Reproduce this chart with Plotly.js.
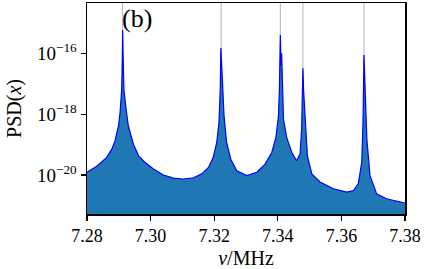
<!DOCTYPE html>
<html>
<head>
<meta charset="utf-8">
<script src="https://cdn.plot.ly/plotly-3.0.1.min.js"></script>
<style>html,body{margin:0;padding:0;background:#fff;}#chart{width:436px;height:269px;}</style>
</head>
<body>
<div id="chart"></div>
<script>
// Frequency (MHz)
const nu = [7.2800, 7.2831, 7.2862, 7.2878, 7.2888, 7.2899, 7.2904, 7.2909, 7.2911, 7.2912,
  7.2914, 7.2916, 7.2923, 7.2930, 7.2946, 7.2962, 7.2982, 7.3009, 7.3040, 7.3072,
  7.3103, 7.3135, 7.3161, 7.3182, 7.3197, 7.3208, 7.3215, 7.3219, 7.3221, 7.3223,
  7.3226, 7.3231, 7.3239, 7.3252, 7.3271, 7.3302, 7.3334, 7.3360, 7.3381, 7.3394,
  7.3402, 7.3405, 7.3408, 7.3410, 7.3412, 7.3414, 7.3418, 7.3428, 7.3444, 7.3459,
  7.3470, 7.3475, 7.3477, 7.3479, 7.3481, 7.3487, 7.3493, 7.3507, 7.3533, 7.3575,
  7.3617, 7.3638, 7.3653, 7.3664, 7.3668, 7.3671, 7.3674, 7.3680, 7.3690, 7.3711,
  7.3742, 7.3770, 7.3800];
// log10 of PSD(x)
const log10PSD = [-19.91, -19.71, -19.42, -19.15, -18.88, -18.39, -17.95, -17.20, -16.20, -15.24,
  -16.30, -17.20, -17.85, -18.39, -18.99, -19.37, -19.58, -19.80, -20.00, -20.10,
  -20.13, -20.09, -19.96, -19.75, -19.42, -18.93, -18.28, -17.20, -15.83, -16.20,
  -17.20, -18.07, -18.93, -19.48, -19.86, -20.02, -19.91, -19.64, -19.26, -18.77,
  -18.07, -17.20, -15.40, -16.40, -16.00, -17.00, -18.17, -18.77, -19.26, -19.53,
  -19.31, -18.50, -17.40, -16.49, -17.20, -18.50, -19.37, -19.96, -20.23, -20.45,
  -20.56, -20.51, -20.29, -19.58, -18.28, -16.06, -17.20, -18.82, -20.02, -20.62,
  -20.78, -20.86, -20.92];
// Resonance markers (MHz)
const peakLines = [7.2912, 7.3222, 7.3408, 7.3479, 7.3671];
const xTicks = [7.28, 7.30, 7.32, 7.34, 7.36, 7.38];
const yTicks = [1e-16, 1e-18, 1e-20];
const yTickText = ['10<sup>−16</sup>', '10<sup>−18</sup>', '10<sup>−20</sup>'];
const baseLevel = 1e-23;

const psd = log10PSD.map(v => Math.pow(10, v));

const traces = [
  {x: nu, y: nu.map(() => baseLevel), mode: 'lines', line: {width: 0}, hoverinfo: 'skip', showlegend: false},
  {x: nu, y: psd, mode: 'lines', fill: 'tonexty', fillcolor: '#1f77b4',
   line: {color: '#0000ff', width: 1.2}, showlegend: false}
];

const shapes = peakLines.map(v => ({type: 'line', xref: 'x', yref: 'paper', x0: v, x1: v, y0: 0, y1: 1,
  layer: 'below', line: {color: '#b4b4b4', width: 1}}));

const fam = 'Liberation Serif, Times New Roman, serif';
const tickFontX = {family: fam, color: '#000', size: 18};
const tickFontY = {family: fam, color: '#000', size: 19};
const titleFont = {family: fam, color: '#000', size: 20};

const layout = {
  width: 436, height: 269,
  margin: {l: 87, r: 31, t: 3, b: 55},
  paper_bgcolor: '#fff', plot_bgcolor: '#fff',
  font: tickFontX,
  showlegend: false,
  shapes: shapes,
  xaxis: {range: [7.28, 7.38], tickvals: xTicks, tickformat: '.2f',
    showline: true, linecolor: '#000', linewidth: 1.5, mirror: true,
    ticks: 'outside', ticklen: 5, tickwidth: 1.2, tickcolor: '#000',
    showgrid: false, zeroline: false, tickfont: tickFontX,
    title: {text: '<i>ν</i>/MHz', font: titleFont, standoff: 8}},
  yaxis: {type: 'log', range: [-21.28, -14.35], tickvals: yTicks, ticktext: yTickText,
    showline: true, linecolor: '#000', linewidth: 1.5, mirror: true,
    ticks: 'outside', ticklen: 5, tickwidth: 1.2, tickcolor: '#000',
    showgrid: false, zeroline: false, tickfont: tickFontY,
    title: {text: 'PSD(<i>x</i>)', font: titleFont, standoff: 10}},
  annotations: [{text: '(b)', xref: 'paper', yref: 'paper', x: 0.158, y: 0.925,
    xanchor: 'center', yanchor: 'middle', showarrow: false,
    font: {family: fam, size: 26, color: '#000'}}]
};

Plotly.newPlot('chart', traces, layout, {staticPlot: true, displayModeBar: false});
</script>
</body>
</html>
